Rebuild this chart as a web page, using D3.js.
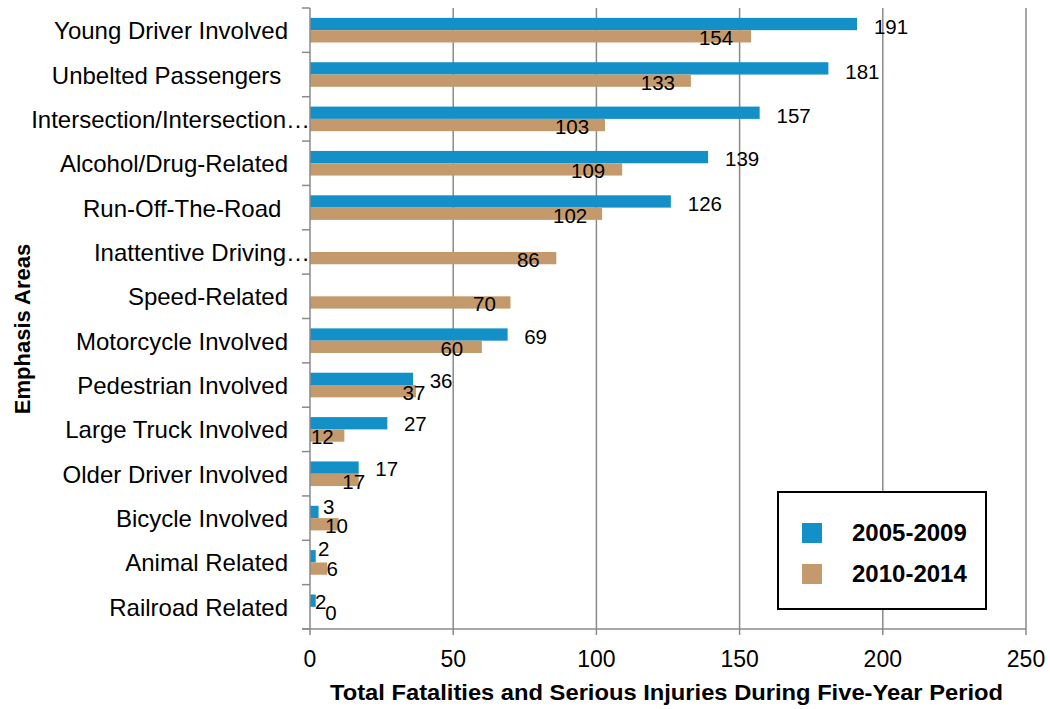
<!DOCTYPE html>
<html><head><meta charset="utf-8">
<script src="https://cdn.jsdelivr.net/npm/d3@7"></script>
<style>body{margin:0;background:#fff}svg{display:block}text{font-family:"Liberation Sans",Arial,sans-serif}</style>
</head><body>
<svg id="c" width="1050" height="709"></svg>
<script>
const categories = ["Young Driver Involved","Unbelted Passengers ","Intersection/Intersection…","Alcohol/Drug-Related","Run-Off-The-Road ","Inattentive Driving…","Speed-Related","Motorcycle Involved","Pedestrian Involved","Large Truck Involved","Older Driver Involved","Bicycle Involved","Animal Related","Railroad Related"];
const series = ["2005-2009","2010-2014"];
const values2005 = [191,181,157,139,126,null,null,69,36,27,17,3,2,2];
const values2010 = [154,133,103,109,102,86,70,60,37,12,17,10,6,0];
const xTicks = [0,50,100,150,200,250];
// label nudges (px): horizontal from bar end to label centre, vertical from row centre to baseline
const nudge2005 = [34,34,34,34,34,0,0,28,28,28,28,10,8,5];
const dy2005 = [4,4,4,3,3,0,0,3,3,2,2,-4,-6.5,2.4];
const nudge2010 = [-35,-33,-33,-34,-32,-28,-26,-30,-2,-22,-5,-2,5,21];
const dy2010 = [15,15,15,15,15,15,15,15,15,15,15,14.6,13.5,13];

const colors = ["#1390c8","#c49a6c"];
const svg = d3.select("#c");
const L = 310, R = 1026, T = 8, B = 629;
const x = d3.scaleLinear().domain([0,250]).range([L,R]);
const y = d3.scaleBand().domain(categories).range([T,B]).padding(0);
const barH = 12.3;

// gridlines
svg.append("g").selectAll("line").data(xTicks.slice(1)).join("line")
  .attr("x1",d=>x(d)).attr("x2",d=>x(d)).attr("y1",T).attr("y2",B+6)
  .attr("stroke","#8a8a8a").attr("stroke-width",1.5);

// bars
const rows = categories.map((c,i)=>({c,i,v:[values2005[i],values2010[i]]}));
const g = svg.append("g");
rows.forEach(r=>{
  const mid = y(r.c)+y.bandwidth()/2;
  r.v.forEach((v,s)=>{
    if(v==null) return;
    g.append("rect").attr("x",x(0)).attr("y",mid - barH + s*barH)
      .attr("width",x(v)-x(0)).attr("height",barH).attr("fill",colors[s]);
  });
});

// axes
svg.append("line").attr("x1",L).attr("x2",L).attr("y1",T).attr("y2",B).attr("stroke","#8a8a8a").attr("stroke-width",1.5);
svg.append("line").attr("x1",L-8).attr("x2",R).attr("y1",B).attr("y2",B).attr("stroke","#8a8a8a").attr("stroke-width",1.5);
const yt = categories.map(c=>y(c)).concat([B]);
svg.append("g").selectAll("line").data(yt).join("line")
  .attr("x1",L-8).attr("x2",L).attr("y1",d=>d).attr("y2",d=>d).attr("stroke","#8a8a8a").attr("stroke-width",1.5);
svg.append("line").attr("x1",L).attr("x2",L).attr("y1",B).attr("y2",B+6).attr("stroke","#8a8a8a").attr("stroke-width",1.5);

// tick labels
svg.append("g").selectAll("text").data(xTicks).join("text")
  .attr("x",d=>x(d)).attr("y",667).attr("text-anchor","middle")
  .attr("font-size",23).attr("fill","#000").text(d=>d);

// category labels
svg.append("g").selectAll("text").data(categories).join("text")
  .attr("x",d=>d.endsWith("…")?310:288).attr("y",d=>y(d)+y.bandwidth()/2+9)
  .attr("text-anchor","end").attr("font-size",24).style("white-space","pre").attr("fill","#000").text(d=>d);

// value labels
const lab = svg.append("g").attr("font-size",20.5).attr("text-anchor","middle").attr("fill","#000");
rows.forEach(r=>{
  const mid = y(r.c)+y.bandwidth()/2;
  if(r.v[0]!=null) lab.append("text").attr("x",x(r.v[0])+nudge2005[r.i]).attr("y",mid+dy2005[r.i]).text(r.v[0]);
  if(r.v[1]!=null) lab.append("text").attr("x",x(r.v[1])+nudge2010[r.i]).attr("y",mid+dy2010[r.i]).text(r.v[1]);
});

// axis titles
svg.append("text").attr("x",666.5).attr("y",700).attr("text-anchor","middle")
  .attr("font-size",22).attr("font-weight","bold")
  .attr("textLength",673).attr("lengthAdjust","spacingAndGlyphs")
  .text("Total Fatalities and Serious Injuries During Five-Year Period");
svg.append("text").attr("transform","translate(30,329) rotate(-90)").attr("text-anchor","middle")
  .attr("font-size",22).attr("font-weight","bold").text("Emphasis Areas");

// legend
const lg = svg.append("g");
lg.append("rect").attr("x",778).attr("y",492).attr("width",208).attr("height",117).attr("fill","#fff").attr("stroke","#000").attr("stroke-width",2);
series.forEach((s,i)=>{
  lg.append("rect").attr("x",802).attr("y",523+i*41).attr("width",20).attr("height",20).attr("fill",colors[i]);
  lg.append("text").attr("x",852).attr("y",541+i*41).attr("font-size",24).attr("font-weight","bold").text(s);
});
</script>
</body></html>
